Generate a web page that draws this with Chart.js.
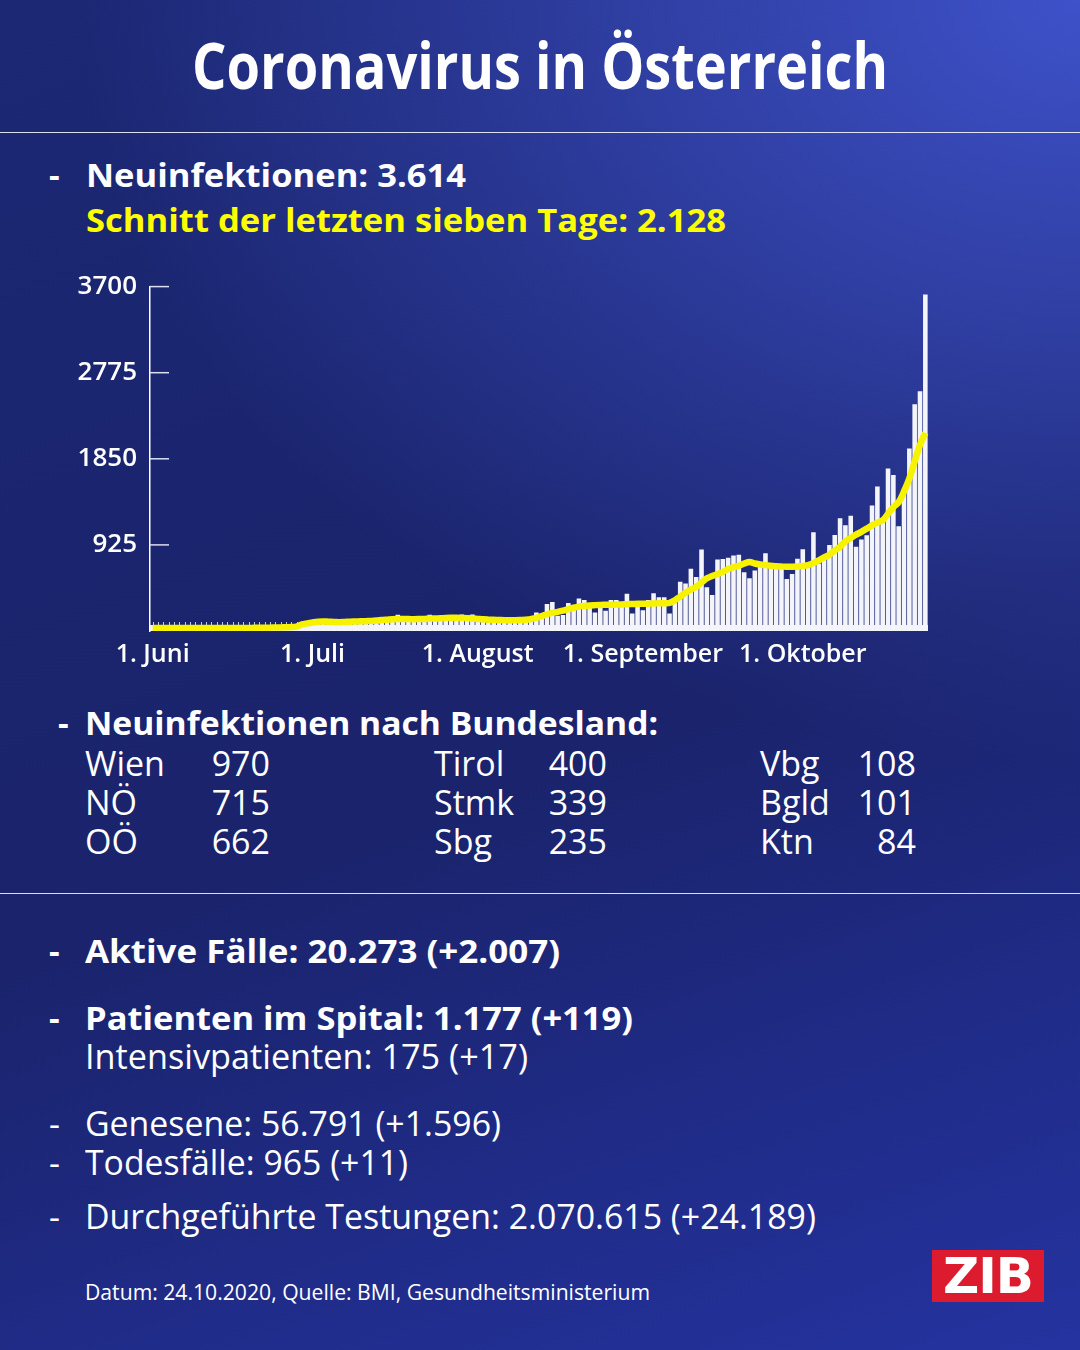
<!DOCTYPE html>
<html lang="de">
<head>
<meta charset="utf-8">
<title>Coronavirus in Österreich</title>
<script src="https://cdn.jsdelivr.net/npm/chart.js@4.4.1/dist/chart.umd.min.js"></script>
<style>
  html, body { margin: 0; padding: 0; }
  body {
    width: 1080px; height: 1350px; overflow: hidden; position: relative;
    font-family: 'Open Sans', sans-serif; color: #fff;
    background:
      radial-gradient(ellipse 1000px 760px at 100% 0%, rgba(64, 84, 206, 0.95), rgba(64, 84, 206, 0) 100%),
      linear-gradient(160deg, #1c2874 0%, #1a236b 55%, #2433a0 100%);
  }
  .t { position: absolute; white-space: nowrap; line-height: 1; transform-origin: left center; }
  .b { font-weight: 700; font-size: 33px; }
  .r { font-weight: 400; font-size: 34px; }
  .yel { color: #ffff00; }
  .rule { position: absolute; left: 0; width: 1080px; height: 1px; background: rgba(255,255,255,0.85); }
  .num { text-align: right; }
  #chartBox { position: absolute; left: 0; top: 258px; width: 1080px; height: 412px; }
  #logo { position: absolute; left: 932px; top: 1250px; width: 112px; height: 52px; background: #dc1c2e; }
  #logo span { position: absolute; left: 0; top: 0; width: 112px; height: 52px; line-height: 52px; text-align: center;
    font-family: 'DejaVu Sans', sans-serif; font-weight: 700; font-size: 50px; color: #fff; letter-spacing: -1px; }
</style>
</head>
<body>
  <div class="t" data-w="696" style="left:0;width:1080px;text-align:center;top:33px;font-size:64px;font-weight:700;transform-origin:center center">Coronavirus in Österreich</div>
  <div class="rule" style="top:132px"></div>

  <div class="t b" style="left:49px;top:158px">-</div>
  <div class="t b" data-w="380" style="left:86px;top:158px">Neuinfektionen: 3.614</div>
  <div class="t b yel" data-w="640" style="left:86px;top:203px">Schnitt der letzten sieben Tage: 2.128</div>

  <div id="chartBox"><canvas id="chart" width="1080" height="412"></canvas></div>

  <div class="t b" style="left:58px;top:706px">-</div>
  <div class="t b" data-w="573" style="left:85px;top:706px">Neuinfektionen nach Bundesland:</div>

  <div id="table"></div>

  <div class="rule" style="top:893px"></div>

  <div class="t b" style="left:49px;top:934px">-</div>
  <div class="t b" data-w="475" style="left:85px;top:934px">Aktive Fälle: 20.273 (+2.007)</div>
  <div class="t b" style="left:49px;top:1001px">-</div>
  <div class="t b" data-w="548" style="left:85px;top:1001px">Patienten im Spital: 1.177 (+119)</div>
  <div class="t r" data-w="443" style="left:85px;top:1039px">Intensivpatienten: 175 (+17)</div>
  <div class="t r" style="left:49px;top:1106px">-</div>
  <div class="t r" data-w="416" style="left:85px;top:1106px">Genesene: 56.791 (+1.596)</div>
  <div class="t r" style="left:49px;top:1145px">-</div>
  <div class="t r" data-w="323" style="left:85px;top:1145px">Todesfälle: 965 (+11)</div>
  <div class="t r" style="left:49px;top:1199px">-</div>
  <div class="t r" data-w="731" style="left:85px;top:1199px">Durchgeführte Testungen: 2.070.615 (+24.189)</div>

  <div class="t" data-w="565" style="left:85px;top:1282px;font-size:21px">Datum: 24.10.2020, Quelle: BMI, Gesundheitsministerium</div>
  <div id="logo"><span>ZIB</span></div>

<script>
// Neuinfektionen pro Tag, 1. Juni bis 24. Oktober 2020
const monthNames = ['Juni', 'Juli', 'August', 'September', 'Oktober'];
const monthDays = [30, 31, 31, 30, 24];

const newCases = [
  // Juni
  30, 28, 25, 32, 36, 38, 30, 22, 27, 27,
  30, 32, 38, 35, 22, 26, 30, 34, 30, 40,
  28, 38, 45, 44, 50, 55, 58, 66, 70, 85,
  // Juli
  110, 95, 90, 105, 85, 100, 88, 95, 110, 100,
  92, 105, 115, 110, 135, 115, 174, 120, 110, 125,
  130, 118, 174, 125, 130, 140, 125, 135, 178, 120,
  178,
  // August
  120, 110, 95, 125, 110, 120, 139, 105, 100, 130,
  140, 199, 160, 290, 311, 165, 172, 300, 256, 350,
  334, 250, 200, 252, 218, 334, 334, 270, 400, 188,
  265,
  // September
  222, 334, 405, 363, 363, 188, 300, 528, 510, 670,
  580, 876, 470, 386, 767, 774, 786, 812, 820, 632,
  566, 650, 730, 836, 705, 700, 690, 559, 612, 776,
  // Oktober
  878, 705, 1060, 726, 769, 925, 1032, 1210, 1135, 1239,
  904, 982, 1028, 1349, 1552, 1190, 1747, 1676, 1125, 1527,
  1961, 2435, 2577, 3614
];

// Schnitt der letzten sieben Tage (gelbe Linie)
const avg7 = [
  // Juni
  32, 32, 32, 33, 33, 33, 33, 33, 32, 32,
  32, 32, 32, 32, 32, 32, 32, 33, 33, 34,
  34, 35, 36, 37, 38, 40, 42, 48, 70, 82,
  // Juli
  92, 100, 103, 100, 98, 95, 97, 100, 102, 104,
  106, 108, 112, 118, 122, 126, 128, 128, 128, 127,
  128, 130, 133, 135, 136, 140, 142, 142, 140, 138,
  135,
  // August
  130, 125, 122, 120, 118, 116, 115, 116, 118, 121,
  128, 140, 160, 180, 195, 205, 218, 235, 250, 262,
  270, 275, 278, 280, 281, 282, 284, 286, 288, 290,
  292,
  // September
  292, 294, 296, 298, 299, 302, 330, 370, 410, 445,
  476, 520, 566, 590, 612, 635, 665, 685, 700, 725,
  742, 725, 715, 708, 702, 695, 692, 690, 690, 692,
  // Oktober
  698, 708, 730, 760, 790, 820, 865, 905, 965, 1000,
  1035, 1065, 1100, 1135, 1165, 1190, 1260, 1330, 1385, 1500,
  1640, 1820, 2000, 2128
];

const yTickValues = [925, 1850, 2775, 3700];

// Bundesländer (drei Spalten)
const stateNames = ['Wien', 'NÖ', 'OÖ', 'Tirol', 'Stmk', 'Sbg', 'Vbg', 'Bgld', 'Ktn'];
const stateCases = [970, 715, 662, 400, 339, 235, 108, 101, 84];

// Tageskategorien
const dayLabels = [];
monthDays.forEach((n, m) => {
  for (let d = 1; d <= n; d++) dayLabels.push({ day: d, month: m });
});

// Tabelle aufbauen
(function buildTable() {
  const table = document.getElementById('table');
  const nameX = [85, 434, 760];
  const numRight = [270, 607, 916];
  const rowTop = [746, 785, 824];
  stateNames.forEach((name, i) => {
    const col = Math.floor(i / 3), row = i % 3;
    table.insertAdjacentHTML('beforeend',
      `<div class="t r" style="left:${nameX[col]}px;top:${rowTop[row]}px">${name}</div>` +
      `<div class="t r num" style="left:${numRight[col] - 120}px;width:120px;top:${rowTop[row]}px">${stateCases[i]}</div>`);
  });
})();

// Texte auf gemessene Breite bringen
function fitTexts() {
  document.querySelectorAll('[data-w]').forEach(el => {
    el.style.transform = 'none';
    const target = +el.dataset.w;
    let w;
    if (el.style.textAlign === 'center') {
      const r = document.createRange();
      r.selectNodeContents(el);
      w = r.getBoundingClientRect().width;
    } else {
      w = el.getBoundingClientRect().width;
    }
    el.style.transform = `scaleX(${(target / w).toFixed(4)})`;
  });
}
fitTexts();
if (document.fonts) document.fonts.ready.then(fitTexts);

const axisDecor = {
  id: 'axisDecor',
  beforeDatasetsDraw(chart) {
    const { ctx, chartArea: a, scales: { x, y } } = chart;
    const y0 = y.getPixelForValue(0);
    ctx.save();
    // kleine Tagesstriche
    ctx.strokeStyle = '#c5c8e8';
    ctx.lineWidth = 1;
    for (let i = 0; i < dayLabels.length; i++) {
      const px = Math.round(x.getPixelForValue(i)) + 0.5;
      ctx.beginPath();
      ctx.moveTo(px, y0 - 9);
      ctx.lineTo(px, y0 - 5);
      ctx.stroke();
    }
    // weisser Sockel
    ctx.fillStyle = '#f0f0f8';
    ctx.fillRect(a.left, y0 - 6, a.right - a.left, 6);
    // y-Striche nach innen
    ctx.strokeStyle = '#dcdef2';
    ctx.lineWidth = 1.5;
    yTickValues.forEach(v => {
      const py = y.getPixelForValue(v);
      ctx.beginPath();
      ctx.moveTo(a.left, py);
      ctx.lineTo(a.left + 19, py);
      ctx.stroke();
    });
    ctx.restore();
  }
};

new Chart(document.getElementById('chart'), {
  type: 'bar',
  data: {
    labels: dayLabels.map(l => l.day + '.' + (l.month + 6) + '.'),
    datasets: [
      {
        type: 'line',
        data: avg7,
        borderColor: '#f6f200',
        borderWidth: 6.5,
        pointRadius: 0,
        tension: 0.4,
        fill: false,
        order: 0
      },
      {
        type: 'bar',
        data: newCases,
        backgroundColor: '#f4f4fb',
        barPercentage: 0.86,
        categoryPercentage: 1.0,
        order: 1
      }
    ]
  },
  options: {
    responsive: false,
    animation: false,
    devicePixelRatio: 1,
    layout: { padding: { top: 3, right: 152, left: 0, bottom: 0 } },
    plugins: { legend: { display: false }, tooltip: { enabled: false } },
    scales: {
      x: {
        offset: true,
        grid: { display: false, drawTicks: false },
        border: { display: false },
        afterFit(scale) { scale.height = 39; },
        ticks: {
          autoSkip: false,
          maxRotation: 0,
          padding: 9,
          color: '#ffffff',
          font: { family: 'Open Sans', size: 25, weight: '600' },
          callback(v, i) {
            const l = dayLabels[i];
            return l.day === 1 ? '1. ' + monthNames[l.month] : null;
          }
        }
      },
      y: {
        min: 0,
        max: 3700,
        grid: { display: false, drawTicks: false },
        border: { display: true, color: '#ffffff', width: 1.5 },
        afterFit(scale) { scale.width = 150; },
        afterBuildTicks(scale) { scale.ticks = [0, ...yTickValues].map(v => ({ value: v })); },
        ticks: {
          padding: 13,
          color: '#ffffff',
          font: { family: 'Open Sans', size: 26, weight: '600' },
          callback: v => (v === 0 ? '' : String(v))
        }
      }
    }
  },
  plugins: [axisDecor]
});
</script>
</body>
</html>
